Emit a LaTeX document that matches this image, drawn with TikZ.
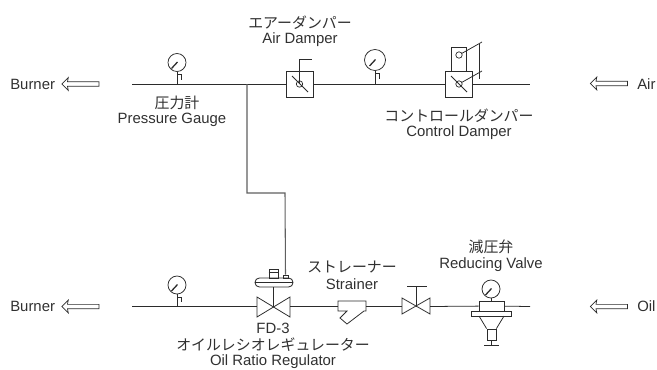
\documentclass[tikz,border=0pt]{standalone}
\usepackage{xcolor}
\usepackage{fontspec}
\setmainfont{Liberation Sans}
\newfontfamily\jpfont{Noto Sans CJK JP}
\usepackage{tikz}
\usetikzlibrary{calc, shapes.arrows}
\definecolor{inkline}{HTML}{2B2B2B}
\definecolor{inktext}{HTML}{303030}
\newcommand{\jlabel}[1]{{\fontsize{10.6}{12}\selectfont\jpfont #1}}

\begin{document}
\begin{tikzpicture}[
    x=0.025cm, y=-0.025cm,
    pipe/.style={line width=0.55pt, color=inkline},
    branch/.style={line width=0.75pt, color=inkline!75},
    needle/.style={line width=0.9pt, color=inkline},
    gauge/.style={circle, draw=inkline, line width=0.55pt, inner sep=0pt},
    dampbox/.style={rectangle, draw=inkline, line width=0.65pt, inner sep=0pt, minimum width=0.675cm, minimum height=0.65cm},
    pivot/.style={circle, draw=inkline, line width=0.5pt, inner sep=0pt, minimum size=0.16cm},
    flow/.style={single arrow, draw=inkline, line width=0.5pt, inner sep=0.045cm, minimum width=0.3cm,
                 minimum height=0.925cm, single arrow head extend=0.105cm, single arrow head indent=0.02cm, shape border rotate=180},
    txt/.style={font=\fontsize{10.6}{12}\selectfont, text=inktext, inner sep=0pt},
    jtxt/.style={text=inktext, inner sep=0pt}
  ]
    \useasboundingbox (0,0) rectangle (657,369);

    % flow arrows and end labels
    \node[flow] (burnertop) at (81.5,84)  {};
    \node[flow] (burnerlow) at (81.5,306.5) {};
    \node[flow] (airin)     at (610,83.5)  {};
    \node[flow] (oilin)     at (610,306.5) {};
    \node[txt, anchor=west] (burnertoptxt) at (10,84)  {Burner};
    \node[txt, anchor=west] (burnerlowtxt) at (10,306.5) {Burner};
    \node[txt, anchor=west] (airtxt)       at (637,84) {Air};
    \node[txt, anchor=west] (oiltxt)       at (637,306.5) {Oil};

    % pipe ends
    \coordinate (topleft)  at (132,84);
    \coordinate (topright) at (530,84);
    \coordinate (lowleft)  at (132,306.5);
    \coordinate (lowright) at (530,306.5);
    \coordinate (tee)      at (247,84);
    \coordinate (bendA)    at (247,193);
    \coordinate (bendB)    at (285,193);

    % dampers
    \node[dampbox] (airdamper)  at (299.5,84) {};
    \node[dampbox] (ctrldamper) at (459,84)   {};
    \node[pivot]   (airpivot)   at (299.5,84) {};
    \node[pivot]   (ctrlpivot)  at (459,84)   {};
    \node[rectangle, draw=inkline, line width=0.6pt, inner sep=0pt, minimum width=0.36cm, minimum height=0.6cm]
      (ctrlhead) at (459,59) {};
    \node[pivot] (headpivot) at (459,55) {};
    \coordinate (airlever)  at (299.5,59);
    \coordinate (airleverB) at (312,59);
    \coordinate (headend)   at (482,42);
    \coordinate (pivotend)  at (482,71);
    \coordinate (linktop)   at (479,44);
    \coordinate (linklow)   at (479,79);
    \draw[pipe] (292,76) -- (308,92);
    \draw[pipe] (451,76) -- (467,92);
    \draw[pipe] (airdamper.center) -- (airlever) -- (airleverB);
    \draw[pipe] (headpivot) -- (headend);
    \draw[pipe] (ctrlpivot) -- (pivotend);
    \draw[pipe] (linktop) -- (linklow);

    % regulator
    \coordinate (regcentre) at (273.5,306.5);
    \draw[pipe] (257,297) -- (290,317) -- (290,297) -- (257,317) -- cycle;
    \node[rectangle, rounded corners=0.11cm, draw=inkline, line width=0.6pt, inner sep=0pt, minimum width=0.95cm, minimum height=0.225cm]
      (diaphragm) at (274,282.5) {};
    \draw[pipe] (diaphragm.west) -- (diaphragm.east);
    \node[rectangle, draw=inkline, line width=0.55pt, inner sep=0pt, minimum width=0.225cm, minimum height=0.225cm]
      (regcap) at (273.5,273.5) {};
    \draw[pipe] (regcap.west |- 0,272) -- (regcap.east |- 0,272);
    \node[rectangle, draw=inkline, line width=0.55pt, inner sep=0pt, minimum width=0.125cm, minimum height=0.075cm]
      (sensor) at (285.5,276.5) {};
    \draw[pipe] (regcentre) -- (diaphragm.south -| regcentre);

    % strainer
    \draw[pipe] (338,301) -- (366,301) -- (366,311) -- (364,311) -- (347,324) -- (340,318) -- (347,311) -- (338,311) -- cycle;
    \coordinate (strainL) at (338,306.5);
    \coordinate (strainR) at (366,306.5);

    % hand valve
    \draw[pipe] (402,298) -- (430,314) -- (430,298) -- (402,314) -- cycle;
    \coordinate (handL) at (402,306.5);
    \coordinate (handR) at (430,306.5);
    \coordinate (handC) at (416,306.5);
    \coordinate (handT) at (416,286);
    \draw[pipe] (handC) -- (handT);
    \draw[pipe] (407,286) -- (427,286);

    % reducing valve
    \node[rectangle, draw=inkline, line width=0.6pt, inner sep=0pt, minimum width=0.625cm, minimum height=0.25cm]
      (redbody) at (491.5,306) {};
    \node[rectangle, draw=inkline, line width=0.6pt, inner sep=0pt, minimum width=1cm, minimum height=0.125cm]
      (redplate) at (491,313.5) {};
    \node[rectangle, draw=inkline, line width=0.6pt, inner sep=0pt, minimum width=0.225cm, minimum height=0.275cm]
      (redspring) at (491.5,334.5) {};
    \draw[pipe] (479,316) -- (redspring.north west);
    \draw[pipe] (504,316) -- (redspring.north east);
    \coordinate (redfoot) at (491.5,345);
    \draw[pipe] (redspring) -- (redfoot);
    \draw[pipe] (484,345) -- (499,345);

    % gauges
    \foreach \gname/\gx/\gy/\gr/\gtap in {pga/177/62.5/9/84, pgb/375/60/10.5/84, pgc/177/285/9/306.5, pgd/491/289/9/301}{
      \node[gauge, minimum size=\gr*0.05cm] (\gname) at (\gx,\gy) {};
      \coordinate (\gname tap) at (\gx,\gtap);
      \draw[pipe] (\gname) -- (\gname tap);
      \draw[needle] (\gname.center) ++(0.5,-0.5) -- ++(-6,6.5);
    }
    \foreach \gname in {pga, pgb, pgc}{
      \draw[pipe] ($(\gname.south)+(0,2.5)$) -- ++(4,0) -- ++(0,5.5);
    }

    % pipes
    \draw[pipe] (topleft) -- (airdamper) -- (ctrldamper) -- (topright);
    \draw[branch] (tee) -- (bendA) -- (bendB) -- (sensor.north);
    \draw[pipe] (lowleft) -- (257,306.5);
    \draw[pipe] (290,306.5) -- (strainL);
    \draw[pipe] (strainR) -- (handL);
    \draw[pipe] (handR) -- (redbody);
    \draw[pipe] (redbody) -- (lowright);

    % labels
    \node[jtxt] (airdampj)  at (300,23)  {\jlabel{エアーダンパー}};
    \node[txt]  (airdampe)  at (300,40)  {Air Damper};
    \node[jtxt] (pgaugej)   at (177,103) {\jlabel{圧力計}};
    \node[txt]  (pgaugee)   at (172,120) {Pressure Gauge};
    \node[jtxt] (ctrldampj) at (459,116) {\jlabel{コントロールダンパー}};
    \node[txt]  (ctrldampe) at (459,133) {Control Damper};
    \node[jtxt] (strainj)   at (352,267) {\jlabel{ストレーナー}};
    \node[txt]  (straine)   at (352,284) {Strainer};
    \node[jtxt] (redvalvej) at (491,247) {\jlabel{減圧弁}};
    \node[txt]  (redvalvee) at (491,265) {Reducing Valve};
    \node[txt]  (regname)   at (273,328) {FD-3};
    \node[jtxt] (regj)      at (273,345) {\jlabel{オイルレシオレギュレーター}};
    \node[txt]  (rege)      at (273,362) {Oil Ratio Regulator};
  \end{tikzpicture}
\end{document}
